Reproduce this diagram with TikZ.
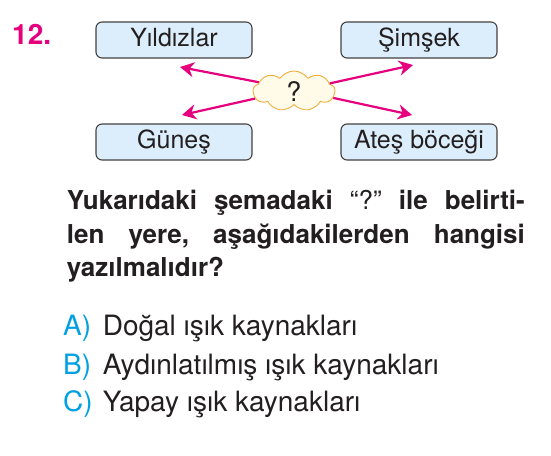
\documentclass[tikz,border=0pt]{standalone}
\usepackage{fontspec}
\setmainfont{TeX Gyre Heros}
\usepackage{tikz}
\usetikzlibrary{shapes.symbols, arrows.meta}
\frenchspacing
\definecolor{pembe}{RGB}{230, 0, 126}
\definecolor{acikmavi}{RGB}{220, 238, 251}
\definecolor{turkuaz}{RGB}{0, 160, 227}
\definecolor{krem}{RGB}{255, 251, 232}
\definecolor{sari}{RGB}{240, 175, 60}
\definecolor{koyu}{RGB}{35, 31, 32}
\tikzset{
    kutu/.style={draw=koyu!85, fill=acikmavi, rounded corners=6pt, line width=1.1pt, minimum width=156pt, minimum height=36pt, text=koyu, font=\fontsize{25}{30}\selectfont, text height=18pt, text depth=4.6pt, inner sep=0pt},
    bulut/.style={cloud, cloud puffs=9, cloud puff arc=110, draw=sari, fill=krem, line width=0.9pt, minimum width=82pt, minimum height=40pt, aspect=2, text=koyu, font=\fontsize{27}{30}\selectfont, inner sep=0pt},
    ok/.style={-{Stealth[length=14pt, width=15pt, inset=4.5pt]}, pembe, line width=2.2pt},
    satir/.style={anchor=base west, inner sep=0pt, text=koyu, font=\bfseries\fontsize{26}{34}\selectfont},
    secenek/.style={anchor=base west, inner sep=0pt, text=koyu, font=\fontsize{28}{38}\selectfont},
}

\begin{document}
\begin{tikzpicture}[x=1pt, y=-1pt]
    \useasboundingbox[fill=white] (0,0) rectangle (551,455);

    \node [anchor=base west, inner sep=0pt, text=pembe, font=\bfseries\fontsize{28}{32}\selectfont] (no) at (12,44.3) {12.};

    \node [kutu] (yildiz) at (174,40) {Yıldızlar};
    \node [kutu] (simsek) at (419,40) {Şimşek};
    \node [kutu] (gunes) at (174,142) {Güneş};
    \node [kutu] (ates) at (419,142) {Ateş böceği};
    \node [bulut] (soru) at (294,91) {?};

    \coordinate (yildizok) at (180,67);
    \coordinate (gunesok) at (182,115);
    \coordinate (simsekok) at (413,65);
    \coordinate (atesok) at (412,115);

    \draw[ok] (soru.166) -- (yildizok);
    \draw[ok] (soru.191) -- (gunesok);
    \draw[ok] (soru.12) -- (simsekok);
    \draw[ok] (soru.350) -- (atesok);

    \node [satir] (s1) at (66.7,209.3) {\makebox[458pt][s]{Yukarıdaki şemadaki {\mdseries “?”} ile belirti-}};
    \node [satir] (s2) at (66.7,243.3) {\makebox[458pt][s]{len yere, aşağıdakilerden hangisi}};
    \node [satir] (s3) at (66.7,276.7) {yazılmalıdır?};

    \node [secenek] (a) at (63,335) {\makebox[39.7pt][l]{\textcolor{turkuaz}{A)}}Doğal ışık kaynakları};
    \node [secenek] (b) at (63,374) {\makebox[39.7pt][l]{\textcolor{turkuaz}{B)}}Aydınlatılmış ışık kaynakları};
    \node [secenek] (c) at (63,411.7) {\makebox[39.7pt][l]{\textcolor{turkuaz}{C)}}Yapay ışık kaynakları};
\end{tikzpicture}
\end{document}
